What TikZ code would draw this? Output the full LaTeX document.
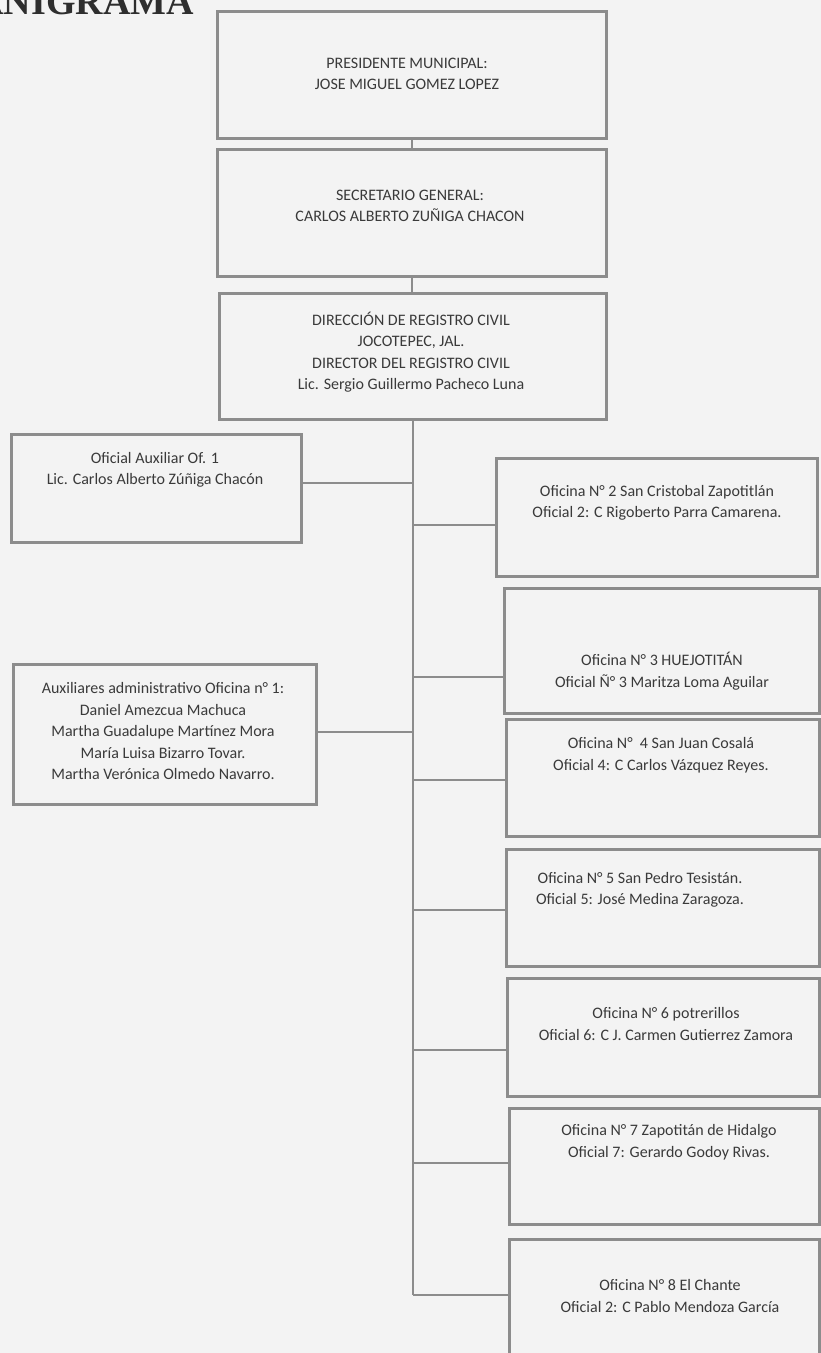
\documentclass[tikz,border=0pt]{standalone}
\usepackage{fontspec}
\setmainfont{Carlito}
\newfontfamily\titlefont{Liberation Serif}
\definecolor{bg}{HTML}{F3F3F3}
\definecolor{frame}{HTML}{8C8C8C}
\definecolor{ink}{HTML}{3A3A3A}
\definecolor{title}{HTML}{2E2E2E}
\tikzset{
  box/.style={draw=frame, line width=2.8pt, fill=none, anchor=north west, inner sep=0pt},
  txt/.style={align=center, text=ink, font=\fontsize{16}{21.5}\selectfont, inner sep=0pt},
  conn/.style={draw=frame, line width=1.8pt}
}
\begin{document}
\begin{tikzpicture}[x=1pt,y=-1pt]
\useasboundingbox (0,0) rectangle (821,1353);
\clip (0,0) rectangle (821,1353);
\fill[bg] (0,0) rectangle (821,1353);
% title (cut off by the page top, as in the reference)
\node[anchor=base east, text=title, font=\fontsize{38}{38}\selectfont\titlefont\bfseries, inner sep=0pt] (ttl) at (194,14) {ORGANIGRAMA};
% boxes
\node[box, minimum width=389pt, minimum height=127pt] (b1) at (216,10) {};
\node[box, minimum width=389pt, minimum height=127pt] (b2) at (216,148) {};
\node[box, minimum width=387pt, minimum height=126pt] (b3) at (218,292) {};
\node[box, minimum width=290pt, minimum height=108pt] (a1) at (10,433) {};
\node[box, minimum width=303pt, minimum height=140pt] (a2) at (12,663) {};
\node[box, minimum width=321pt, minimum height=118pt] (o2) at (495,457) {};
\node[box, minimum width=315pt, minimum height=125pt] (o3) at (503,587) {};
\node[box, minimum width=313pt, minimum height=117pt] (o4) at (505,718) {};
\node[box, minimum width=313pt, minimum height=117pt] (o5) at (505,848) {};
\node[box, minimum width=312pt, minimum height=118pt] (o6) at (506,977) {};
\node[box, minimum width=310pt, minimum height=116pt] (o7) at (508,1107) {};
\node[box, minimum width=310pt, minimum height=137pt] (o8) at (508,1238) {};
% texts
\node[txt] (t1) at (407,74) {PRESIDENTE MUNICIPAL:\\JOSE MIGUEL GOMEZ LOPEZ};
\node[txt] (t2) at (410,206) {SECRETARIO GENERAL:\\CARLOS ALBERTO ZUÑIGA CHACON};
\node[txt] (t3) at (411,352) {DIRECCIÓN DE REGISTRO CIVIL\\JOCOTEPEC, JAL.\\DIRECTOR DEL REGISTRO CIVIL\\Lic. Sergio Guillermo Pacheco Luna};
\node[txt] (ta1) at (155,470) {Oficial Auxiliar Of. 1\\Lic. Carlos Alberto Zúñiga Chacón};
\node[txt] (ta2) at (163,731) {Auxiliares administrativo Oficina n° 1:\\Daniel Amezcua Machuca\\Martha Guadalupe Martínez Mora\\María Luisa Bizarro Tovar.\\Martha Verónica Olmedo Navarro.};
\node[txt] (to2) at (657,503) {Oficina N° 2 San Cristobal Zapotitlán\\Oficial 2: C Rigoberto Parra Camarena.};
\node[txt] (to3) at (662,671) {Oficina N° 3 HUEJOTITÁN\\Oficial Ñ° 3 Maritza Loma Aguilar};
\node[txt] (to4) at (661,755) {Oficina N°\ \ 4 San Juan Cosalá\\Oficial 4: C Carlos Vázquez Reyes.};
\node[txt] (to5) at (640,890) {Oficina N° 5 San Pedro Tesistán.\\Oficial 5: José Medina Zaragoza.};
\node[txt] (to6) at (666,1024) {Oficina N° 6 potrerillos\\Oficial 6: C J. Carmen Gutierrez Zamora};
\node[txt] (to7) at (669,1142) {Oficina N° 7 Zapotitán de Hidalgo\\Oficial 7: Gerardo Godoy Rivas.};
\node[txt] (to8) at (670,1296) {Oficina N° 8 El Chante\\Oficial 2: C Pablo Mendoza García};
% junction points
\coordinate (ja1) at (413,483);
\coordinate (ja2) at (413,732);
\coordinate (j2) at (413,525);
\coordinate (j3) at (413,677);
\coordinate (j4) at (413,780);
\coordinate (j5) at (413,910);
\coordinate (j6) at (413,1050);
\coordinate (j7) at (413,1163);
\coordinate (j8) at (413,1295);
% connectors
\draw[conn] (b1.south) -- (b2.north);
\draw[conn] (b2.south) -- (b2.south |- b3.north);
\draw[conn] (b3.south -| j8) -- (j8);
\draw[conn] (a1.east |- ja1) -- (ja1);
\draw[conn] (a2.east |- ja2) -- (ja2);
\draw[conn] (j2) -- (o2.west |- j2);
\draw[conn] (j3) -- (o3.west |- j3);
\draw[conn] (j4) -- (o4.west |- j4);
\draw[conn] (j5) -- (o5.west |- j5);
\draw[conn] (j6) -- (o6.west |- j6);
\draw[conn] (j7) -- (o7.west |- j7);
\draw[conn] (j8) -- (o8.west |- j8);
\end{tikzpicture}
\end{document}
